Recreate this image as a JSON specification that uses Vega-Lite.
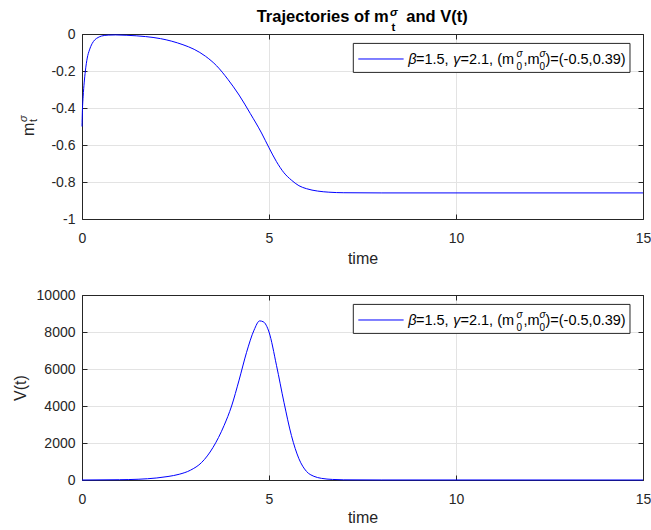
{
  "$schema": "https://vega.github.io/schema/vega-lite/v6.json",
  "autosize": {"type": "pad"},
  "padding": {"left": 12, "top": 6, "right": 0, "bottom": 0},
  "bounds": "flush",
  "spacing": 76,
  "config": {
    "font": "Liberation Sans",
    "view": {"stroke": null},
    "axis": {
      "domainColor": "#262626", "tickColor": "#262626", "labelColor": "#262626", "titleColor": "#262626",
      "labelFont": "Liberation Sans", "titleFont": "Liberation Sans", "labelFontSize": 14, "titleFontSize": 16,
      "titleFontWeight": "normal", "gridColor": "#e3e3e3", "tickSize": -5, "domainWidth": 1, "tickWidth": 1
    },
    "text": {"font": "Liberation Sans"}
  },
  "datasets": {
    "m": [
      {"t": 0, "m": -0.5}, {"t": 0.01, "m": -0.42}, {"t": 0.03, "m": -0.34}, {"t": 0.06, "m": -0.26},
      {"t": 0.09, "m": -0.2}, {"t": 0.14, "m": -0.13}, {"t": 0.2, "m": -0.086}, {"t": 0.27, "m": -0.052},
      {"t": 0.34, "m": -0.032}, {"t": 0.43, "m": -0.019}, {"t": 0.52, "m": -0.011}, {"t": 0.7, "m": -0.006},
      {"t": 0.9, "m": -0.005}, {"t": 1.2, "m": -0.007}, {"t": 1.7, "m": -0.014}, {"t": 2.1, "m": -0.025},
      {"t": 2.4, "m": -0.039}, {"t": 2.7, "m": -0.058}, {"t": 3.0, "m": -0.083}, {"t": 3.3, "m": -0.12},
      {"t": 3.6, "m": -0.172}, {"t": 3.9, "m": -0.245}, {"t": 4.2, "m": -0.33}, {"t": 4.5, "m": -0.43},
      {"t": 4.8, "m": -0.535}, {"t": 5.0, "m": -0.615}, {"t": 5.2, "m": -0.69}, {"t": 5.4, "m": -0.75},
      {"t": 5.6, "m": -0.79}, {"t": 5.8, "m": -0.82}, {"t": 6.0, "m": -0.836}, {"t": 6.3, "m": -0.849},
      {"t": 6.6, "m": -0.855}, {"t": 7.0, "m": -0.858}, {"t": 8, "m": -0.859}, {"t": 15, "m": -0.859}
    ],
    "v": [
      {"t": 0, "v": 0}, {"t": 1.0, "v": 15}, {"t": 1.5, "v": 40}, {"t": 2.0, "v": 110}, {"t": 2.3, "v": 190},
      {"t": 2.6, "v": 310}, {"t": 2.9, "v": 530}, {"t": 3.2, "v": 950}, {"t": 3.5, "v": 1750}, {"t": 3.8, "v": 2950},
      {"t": 4.0, "v": 4000}, {"t": 4.2, "v": 5400}, {"t": 4.4, "v": 6900}, {"t": 4.6, "v": 8100}, {"t": 4.75, "v": 8600},
      {"t": 4.85, "v": 8550}, {"t": 5.0, "v": 8000}, {"t": 5.2, "v": 6200}, {"t": 5.4, "v": 4200}, {"t": 5.6, "v": 2400},
      {"t": 5.8, "v": 1150}, {"t": 6.0, "v": 470}, {"t": 6.2, "v": 200}, {"t": 6.4, "v": 90}, {"t": 6.7, "v": 30},
      {"t": 7.0, "v": 10}, {"t": 8, "v": 2}, {"t": 15, "v": 0}
    ]
  },
  "vconcat": [
    {
      "width": 561, "height": 185,
      "data": {"values": [{}]},
      "resolve": {"axis": {"x": "independent", "y": "independent"}},
      "layer": [
        {
          "data": {"name": "m"},
          "mark": {"type": "line", "color": "#0000ff", "strokeWidth": 1, "interpolate": "monotone"},
          "encoding": {
            "x": {"field": "t", "type": "quantitative", "scale": {"domain": [0, 15], "nice": false},
                  "axis": {"orient": "bottom", "values": [0, 5, 10, 15], "grid": true, "title": "time", "labelPadding": 17, "titlePadding": 5, "labelFlush": false}},
            "y": {"field": "m", "type": "quantitative", "scale": {"domain": [-1, 0], "nice": false},
                  "axis": {"orient": "left", "values": [-1, -0.8, -0.6, -0.4, -0.2, 0], "grid": true, "title": null, "labelPadding": 12, "format": ".1~f", "labelExpr": "replace(datum.label, '−', '-')", "labelFlush": false}}
          }
        },
        {
          "mark": {"type": "rect", "fill": "#ffffff", "stroke": "#262626", "strokeWidth": 1},
          "encoding": {
            "x": {"datum": 7.254, "type": "quantitative", "scale": {"domain": [0, 15], "nice": false},
                  "axis": {"orient": "top", "values": [0, 5, 10, 15], "labels": false, "grid": false, "title": null}},
            "x2": {"datum": 14.652},
            "y": {"datum": -0.0508, "type": "quantitative", "scale": {"domain": [-1, 0], "nice": false},
                  "axis": {"orient": "right", "values": [-1, -0.8, -0.6, -0.4, -0.2, 0], "labels": false, "grid": false, "title": null}},
            "y2": {"datum": -0.2076}
          }
        },
        {
          "mark": {"type": "rule", "color": "#0000ff", "strokeWidth": 1},
          "encoding": {
            "x": {"datum": 7.388, "type": "quantitative", "scale": {"domain": [0, 15], "nice": false}, "axis": null},
            "x2": {"datum": 8.6},
            "y": {"datum": -0.1351, "type": "quantitative", "scale": {"domain": [-1, 0], "nice": false}, "axis": null}
          }
        },
        {"mark": {"type": "text", "text": "β", "fontSize": 14.5, "fontStyle": "italic", "align": "left", "baseline": "alphabetic", "color": "#000000"},
         "encoding": {"x": {"datum": 8.725, "type": "quantitative", "scale": {"domain": [0, 15], "nice": false}, "axis": null},
                      "y": {"datum": -0.1622, "type": "quantitative", "scale": {"domain": [-1, 0], "nice": false}, "axis": null}}},
        {"mark": {"type": "text", "text": "=1.5,", "fontSize": 14.5, "align": "left", "baseline": "alphabetic", "color": "#000000"},
         "encoding": {"x": {"datum": 8.93, "type": "quantitative", "scale": {"domain": [0, 15], "nice": false}, "axis": null},
                      "y": {"datum": -0.1622, "type": "quantitative", "scale": {"domain": [-1, 0], "nice": false}, "axis": null}}},
        {"mark": {"type": "text", "text": "γ", "fontSize": 14.5, "fontStyle": "italic", "align": "left", "baseline": "alphabetic", "color": "#000000"},
         "encoding": {"x": {"datum": 9.928, "type": "quantitative", "scale": {"domain": [0, 15], "nice": false}, "axis": null},
                      "y": {"datum": -0.1622, "type": "quantitative", "scale": {"domain": [-1, 0], "nice": false}, "axis": null}}},
        {"mark": {"type": "text", "text": "=2.1, (m", "fontSize": 14.5, "align": "left", "baseline": "alphabetic", "color": "#000000"},
         "encoding": {"x": {"datum": 10.12, "type": "quantitative", "scale": {"domain": [0, 15], "nice": false}, "axis": null},
                      "y": {"datum": -0.1622, "type": "quantitative", "scale": {"domain": [-1, 0], "nice": false}, "axis": null}}},
        {"mark": {"type": "text", "text": "σ", "fontSize": 10, "fontStyle": "italic", "align": "left", "baseline": "alphabetic", "color": "#000000"},
         "encoding": {"x": {"datum": 11.618, "type": "quantitative", "scale": {"domain": [0, 15], "nice": false}, "axis": null},
                      "y": {"datum": -0.1243, "type": "quantitative", "scale": {"domain": [-1, 0], "nice": false}, "axis": null}}},
        {"mark": {"type": "text", "text": "0", "fontSize": 10, "align": "left", "baseline": "alphabetic", "color": "#000000"},
         "encoding": {"x": {"datum": 11.618, "type": "quantitative", "scale": {"domain": [0, 15], "nice": false}, "axis": null},
                      "y": {"datum": -0.1946, "type": "quantitative", "scale": {"domain": [-1, 0], "nice": false}, "axis": null}}},
        {"mark": {"type": "text", "text": ",m", "fontSize": 14.5, "align": "left", "baseline": "alphabetic", "color": "#000000"},
         "encoding": {"x": {"datum": 11.805, "type": "quantitative", "scale": {"domain": [0, 15], "nice": false}, "axis": null},
                      "y": {"datum": -0.1622, "type": "quantitative", "scale": {"domain": [-1, 0], "nice": false}, "axis": null}}},
        {"mark": {"type": "text", "text": "σ", "fontSize": 10, "fontStyle": "italic", "align": "left", "baseline": "alphabetic", "color": "#000000"},
         "encoding": {"x": {"datum": 12.233, "type": "quantitative", "scale": {"domain": [0, 15], "nice": false}, "axis": null},
                      "y": {"datum": -0.1243, "type": "quantitative", "scale": {"domain": [-1, 0], "nice": false}, "axis": null}}},
        {"mark": {"type": "text", "text": "0", "fontSize": 10, "align": "left", "baseline": "alphabetic", "color": "#000000"},
         "encoding": {"x": {"datum": 12.233, "type": "quantitative", "scale": {"domain": [0, 15], "nice": false}, "axis": null},
                      "y": {"datum": -0.1946, "type": "quantitative", "scale": {"domain": [-1, 0], "nice": false}, "axis": null}}},
        {"mark": {"type": "text", "text": ")=(-0.5,0.39)", "fontSize": 14.5, "align": "left", "baseline": "alphabetic", "color": "#000000"},
         "encoding": {"x": {"datum": 12.393, "type": "quantitative", "scale": {"domain": [0, 15], "nice": false}, "axis": null},
                      "y": {"datum": -0.1622, "type": "quantitative", "scale": {"domain": [-1, 0], "nice": false}, "axis": null}}},
        {"mark": {"type": "text", "text": "Trajectories of m", "fontSize": 16.5, "fontWeight": "bold", "align": "left", "baseline": "alphabetic", "color": "#000000"},
         "encoding": {"x": {"datum": 4.671, "type": "quantitative", "scale": {"domain": [0, 15], "nice": false}, "axis": null},
                      "y": {"datum": 0.0627, "type": "quantitative", "scale": {"domain": [-1, 0], "nice": false}, "axis": null}}},
        {"mark": {"type": "text", "text": "σ", "fontSize": 11.5, "fontWeight": "bold", "fontStyle": "italic", "align": "left", "baseline": "alphabetic", "color": "#000000"},
         "encoding": {"x": {"datum": 8.235, "type": "quantitative", "scale": {"domain": [0, 15], "nice": false}, "axis": null},
                      "y": {"datum": 0.099, "type": "quantitative", "scale": {"domain": [-1, 0], "nice": false}, "axis": null}}},
        {"mark": {"type": "text", "text": "t", "fontSize": 11.5, "fontWeight": "bold", "align": "left", "baseline": "alphabetic", "color": "#000000"},
         "encoding": {"x": {"datum": 8.275, "type": "quantitative", "scale": {"domain": [0, 15], "nice": false}, "axis": null},
                      "y": {"datum": 0.018, "type": "quantitative", "scale": {"domain": [-1, 0], "nice": false}, "axis": null}}},
        {"mark": {"type": "text", "text": "and V(t)", "fontSize": 16.5, "fontWeight": "bold", "align": "left", "baseline": "alphabetic", "color": "#000000"},
         "encoding": {"x": {"datum": 8.67, "type": "quantitative", "scale": {"domain": [0, 15], "nice": false}, "axis": null},
                      "y": {"datum": 0.0627, "type": "quantitative", "scale": {"domain": [-1, 0], "nice": false}, "axis": null}}},
        {"mark": {"type": "text", "text": "m", "fontSize": 16, "angle": 270, "align": "left", "baseline": "alphabetic", "color": "#262626"},
         "encoding": {"x": {"datum": -1.283, "type": "quantitative", "scale": {"domain": [0, 15], "nice": false}, "axis": null},
                      "y": {"datum": -0.5514, "type": "quantitative", "scale": {"domain": [-1, 0], "nice": false}, "axis": null}}},
        {"mark": {"type": "text", "text": "t", "fontSize": 11, "angle": 270, "align": "left", "baseline": "alphabetic", "color": "#262626"},
         "encoding": {"x": {"datum": -1.203, "type": "quantitative", "scale": {"domain": [0, 15], "nice": false}, "axis": null},
                      "y": {"datum": -0.4757, "type": "quantitative", "scale": {"domain": [-1, 0], "nice": false}, "axis": null}}},
        {"mark": {"type": "text", "text": "σ", "fontSize": 11, "fontStyle": "italic", "angle": 270, "align": "left", "baseline": "alphabetic", "color": "#262626"},
         "encoding": {"x": {"datum": -1.471, "type": "quantitative", "scale": {"domain": [0, 15], "nice": false}, "axis": null},
                      "y": {"datum": -0.4757, "type": "quantitative", "scale": {"domain": [-1, 0], "nice": false}, "axis": null}}}
      ]
    },
    {
      "width": 561, "height": 185,
      "data": {"values": [{}]},
      "resolve": {"axis": {"x": "independent", "y": "independent"}},
      "layer": [
        {
          "data": {"name": "v"},
          "mark": {"type": "line", "color": "#0000ff", "strokeWidth": 1, "interpolate": "monotone"},
          "encoding": {
            "x": {"field": "t", "type": "quantitative", "scale": {"domain": [0, 15], "nice": false},
                  "axis": {"orient": "bottom", "values": [0, 5, 10, 15], "grid": true, "title": "time", "labelPadding": 17, "titlePadding": 3, "labelFlush": false}},
            "y": {"field": "v", "type": "quantitative", "scale": {"domain": [0, 10000], "nice": false},
                  "axis": {"orient": "left", "values": [0, 2000, 4000, 6000, 8000, 10000], "grid": true, "title": "V(t)", "titlePadding": 8, "labelPadding": 12, "format": "d", "labelFlush": false}}
          }
        },
        {
          "mark": {"type": "rect", "fill": "#ffffff", "stroke": "#262626", "strokeWidth": 1},
          "encoding": {
            "x": {"datum": 7.254, "type": "quantitative", "scale": {"domain": [0, 15], "nice": false},
                  "axis": {"orient": "top", "values": [0, 5, 10, 15], "labels": false, "grid": false, "title": null}},
            "x2": {"datum": 14.652},
            "y": {"datum": 9492, "type": "quantitative", "scale": {"domain": [0, 10000], "nice": false},
                  "axis": {"orient": "right", "values": [0, 2000, 4000, 6000, 8000, 10000], "labels": false, "grid": false, "title": null}},
            "y2": {"datum": 7924}
          }
        },
        {
          "mark": {"type": "rule", "color": "#0000ff", "strokeWidth": 1},
          "encoding": {
            "x": {"datum": 7.388, "type": "quantitative", "scale": {"domain": [0, 15], "nice": false}, "axis": null},
            "x2": {"datum": 8.6},
            "y": {"datum": 8649, "type": "quantitative", "scale": {"domain": [0, 10000], "nice": false}, "axis": null}
          }
        },
        {"mark": {"type": "text", "text": "β", "fontSize": 14.5, "fontStyle": "italic", "align": "left", "baseline": "alphabetic", "color": "#000000"},
         "encoding": {"x": {"datum": 8.725, "type": "quantitative", "scale": {"domain": [0, 15], "nice": false}, "axis": null},
                      "y": {"datum": 8378, "type": "quantitative", "scale": {"domain": [0, 10000], "nice": false}, "axis": null}}},
        {"mark": {"type": "text", "text": "=1.5,", "fontSize": 14.5, "align": "left", "baseline": "alphabetic", "color": "#000000"},
         "encoding": {"x": {"datum": 8.93, "type": "quantitative", "scale": {"domain": [0, 15], "nice": false}, "axis": null},
                      "y": {"datum": 8378, "type": "quantitative", "scale": {"domain": [0, 10000], "nice": false}, "axis": null}}},
        {"mark": {"type": "text", "text": "γ", "fontSize": 14.5, "fontStyle": "italic", "align": "left", "baseline": "alphabetic", "color": "#000000"},
         "encoding": {"x": {"datum": 9.928, "type": "quantitative", "scale": {"domain": [0, 15], "nice": false}, "axis": null},
                      "y": {"datum": 8378, "type": "quantitative", "scale": {"domain": [0, 10000], "nice": false}, "axis": null}}},
        {"mark": {"type": "text", "text": "=2.1, (m", "fontSize": 14.5, "align": "left", "baseline": "alphabetic", "color": "#000000"},
         "encoding": {"x": {"datum": 10.12, "type": "quantitative", "scale": {"domain": [0, 15], "nice": false}, "axis": null},
                      "y": {"datum": 8378, "type": "quantitative", "scale": {"domain": [0, 10000], "nice": false}, "axis": null}}},
        {"mark": {"type": "text", "text": "σ", "fontSize": 10, "fontStyle": "italic", "align": "left", "baseline": "alphabetic", "color": "#000000"},
         "encoding": {"x": {"datum": 11.618, "type": "quantitative", "scale": {"domain": [0, 15], "nice": false}, "axis": null},
                      "y": {"datum": 8757, "type": "quantitative", "scale": {"domain": [0, 10000], "nice": false}, "axis": null}}},
        {"mark": {"type": "text", "text": "0", "fontSize": 10, "align": "left", "baseline": "alphabetic", "color": "#000000"},
         "encoding": {"x": {"datum": 11.618, "type": "quantitative", "scale": {"domain": [0, 15], "nice": false}, "axis": null},
                      "y": {"datum": 8054, "type": "quantitative", "scale": {"domain": [0, 10000], "nice": false}, "axis": null}}},
        {"mark": {"type": "text", "text": ",m", "fontSize": 14.5, "align": "left", "baseline": "alphabetic", "color": "#000000"},
         "encoding": {"x": {"datum": 11.805, "type": "quantitative", "scale": {"domain": [0, 15], "nice": false}, "axis": null},
                      "y": {"datum": 8378, "type": "quantitative", "scale": {"domain": [0, 10000], "nice": false}, "axis": null}}},
        {"mark": {"type": "text", "text": "σ", "fontSize": 10, "fontStyle": "italic", "align": "left", "baseline": "alphabetic", "color": "#000000"},
         "encoding": {"x": {"datum": 12.233, "type": "quantitative", "scale": {"domain": [0, 15], "nice": false}, "axis": null},
                      "y": {"datum": 8757, "type": "quantitative", "scale": {"domain": [0, 10000], "nice": false}, "axis": null}}},
        {"mark": {"type": "text", "text": "0", "fontSize": 10, "align": "left", "baseline": "alphabetic", "color": "#000000"},
         "encoding": {"x": {"datum": 12.233, "type": "quantitative", "scale": {"domain": [0, 15], "nice": false}, "axis": null},
                      "y": {"datum": 8054, "type": "quantitative", "scale": {"domain": [0, 10000], "nice": false}, "axis": null}}},
        {"mark": {"type": "text", "text": ")=(-0.5,0.39)", "fontSize": 14.5, "align": "left", "baseline": "alphabetic", "color": "#000000"},
         "encoding": {"x": {"datum": 12.393, "type": "quantitative", "scale": {"domain": [0, 15], "nice": false}, "axis": null},
                      "y": {"datum": 8378, "type": "quantitative", "scale": {"domain": [0, 10000], "nice": false}, "axis": null}}}
      ]
    }
  ]
}
